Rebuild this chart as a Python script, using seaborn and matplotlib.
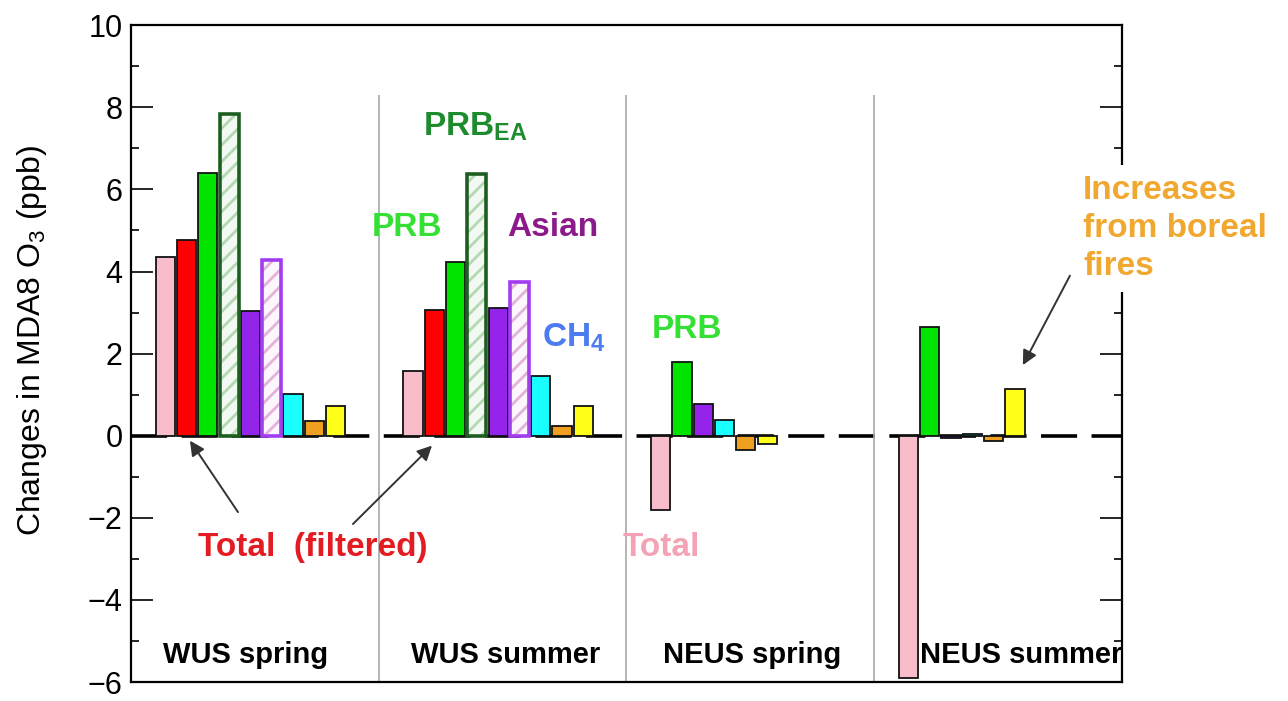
# Changes in MDA8 O3 by source and region/season (grouped bars)

import numpy as np
import pandas as pd
import seaborn as sns
import matplotlib.pyplot as plt
from matplotlib.patches import Rectangle
from matplotlib.ticker import MultipleLocator

groups = ['WUS spring', 'WUS summer', 'NEUS spring', 'NEUS summer']
wus_sources = ['Total', 'Total (filtered)', 'PRB', 'PRB (EA)', 'Asian', 'Asian (EA)',
               'CH4', 'Other', 'Boreal fires']
neus_sources = ['Total', 'PRB', 'Asian', 'CH4', 'Other', 'Boreal fires']

wus_spring = [4.36, 4.77, 6.39, 7.84, 3.05, 4.29, 1.02, 0.36, 0.73]
wus_summer = [1.57, 3.07, 4.24, 6.37, 3.12, 3.75, 1.45, 0.24, 0.73]
neus_spring = [-1.82, 1.79, 0.77, 0.39, -0.34, -0.20]
neus_summer = [-5.90, 2.66, -0.05, 0.04, -0.12, 1.14]

palette = {'Total': '#f8bccb', 'Total (filtered)': '#ff0000', 'PRB': '#00e400',
           'PRB (EA)': '#b4d7b4', 'Asian': '#9524ea', 'Asian (EA)': '#e3b3d9',
           'CH4': '#19ffff', 'Other': '#f0a020', 'Boreal fires': '#ffff1a'}
# hatched bars: (face, outline)
hatched = {'PRB (EA)': ('#f2f9f2', '#1d5e20'), 'Asian (EA)': ('#fdf6fd', '#a23cf0')}

rows = []
for g, (name, srcs, vals) in enumerate(zip(groups,
                                           [wus_sources, wus_sources, neus_sources, neus_sources],
                                           [wus_spring, wus_summer, neus_spring, neus_summer])):
    for k, (s, v) in enumerate(zip(srcs, vals)):
        rows.append({'group': name, 'source': s, 'slot': g + 0.138 + 0.086 * k, 'value': v})
df = pd.DataFrame(rows)

sns.set_style('ticks')
plt.rcParams['font.family'] = ['Liberation Sans', 'DejaVu Sans']
plt.rcParams['mathtext.fontset'] = 'custom'
plt.rcParams['mathtext.rm'] = 'Liberation Sans'
plt.rcParams['mathtext.bf'] = 'Liberation Sans:bold'
plt.rcParams['hatch.linewidth'] = 2.0
for key in ['text.color', 'axes.labelcolor', 'xtick.color', 'ytick.color']:
    plt.rcParams[key] = 'black'

fig = plt.figure(figsize=(12.88, 7.01), dpi=100)
ax = fig.add_axes([0.1017, 0.027, 0.7694, 0.937])

ax.axhline(0, color='black', lw=2.6, ls=(0, (10, 4)), zorder=1)
ax.vlines([1, 2, 3], -6, 8.3, color='#a8a8a8', lw=1.2, zorder=1)

sns.barplot(data=df, x='slot', y='value', hue='source', palette=palette, saturation=1,
            native_scale=True, dodge=False, width=0.9, errorbar=None,
            edgecolor='#111111', linewidth=1.3, legend=False, ax=ax, zorder=2)

# hatch the "EA" bars
for p in list(ax.patches):
    xc = p.get_x() + p.get_width() / 2
    match = df[np.isclose(df['slot'], xc)]
    if len(match) == 0:
        continue
    src = match['source'].iloc[0]
    if src in hatched:
        face, outline = hatched[src]
        p.set_edgecolor(palette[src])
        p.set_facecolor(face)
        p.set_hatch('//')
        p.set_linewidth(0)
        ax.add_patch(Rectangle((p.get_x(), p.get_y()), p.get_width(), p.get_height(),
                               fill=False, edgecolor=outline, lw=2.6, zorder=2.1))

ax.set_xlim(0, 4)
ax.set_ylim(-6, 10)
ax.set_xticks([])
ax.set_xlabel('')
ax.set_yticks(range(-6, 11, 2))
ax.yaxis.set_minor_locator(MultipleLocator(1))
ax.tick_params(axis='y', which='both', direction='in', left=True, right=True,
               labelsize=22, pad=6)
ax.tick_params(axis='y', which='major', length=16, width=1.2)
ax.tick_params(axis='y', which='minor', length=6, width=1.2)
for sp in ax.spines.values():
    sp.set_linewidth(1.6)
    sp.set_color('black')
ax.set_ylabel(r'Changes in MDA8 O$_{\mathrm{3}}$ (ppb)', fontsize=23)
ax.yaxis.set_label_coords(-0.083, 0.52)

# group labels
label_x = [0.464, 1.514, 2.507, 3.593]
for name, xpos in zip(groups, label_x):
    ax.text(xpos, -5.54, name, ha='center', va='baseline', fontsize=21,
            fontweight='bold')

# annotations
fs = 24
ax.text(1.179, 7.31, r'PRB$_{\mathbf{EA}}$', color='#1e8c2e', fontsize=fs, fontweight='bold', va='baseline')
ax.text(1.255, 4.87, 'PRB', color='#33e033', fontsize=fs, fontweight='bold', ha='right', va='baseline')
ax.text(1.518, 4.87, 'Asian', color='#8b1a8b', fontsize=fs, fontweight='bold', va='baseline')
ax.text(1.659, 2.18, r'CH$_{\mathbf{4}}$', color='#4d7cf0', fontsize=fs, fontweight='bold', va='baseline')
ax.text(2.103, 2.37, 'PRB', color='#33e033', fontsize=fs, fontweight='bold', va='baseline')
ax.text(0.270, -2.93, 'Total  (filtered)', color='#e31b23', fontsize=fs, fontweight='bold', va='baseline')
ax.text(1.986, -2.93, 'Total', color='#f4a3b5', fontsize=fs, fontweight='bold', va='baseline')
ax.text(3.843, 6.35, 'Increases\nfrom boreal\nfires', color='#f0a830', fontsize=fs,
        fontweight='bold', va='top', ha='left', zorder=5, linespacing=1.3,
        bbox=dict(boxstyle='square,pad=0.3', facecolor='white', edgecolor='none'))

arrow = dict(arrowstyle='-|>', color='#333333', lw=1.4, mutation_scale=22, shrinkA=0, shrinkB=0)
ax.annotate('', xy=(0.238, -0.12), xytext=(0.432, -1.86), arrowprops=arrow)
ax.annotate('', xy=(1.215, -0.24), xytext=(0.896, -2.15), arrowprops=arrow)
ax.annotate('', xy=(3.600, 1.72), xytext=(3.790, 3.90), arrowprops=arrow)

plt.savefig('out.png', dpi=100)
